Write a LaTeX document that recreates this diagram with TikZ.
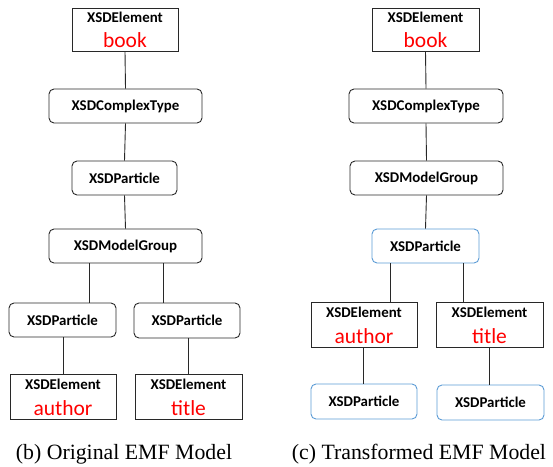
\documentclass[tikz,border=0pt]{standalone}
\usepackage{fontspec}
\setmainfont{Liberation Serif}
\newfontfamily\boxfont{Carlito}
\definecolor{edgeblue}{RGB}{91,155,213}
\definecolor{linegray}{RGB}{40,40,40}
\begin{document}
\begin{tikzpicture}[x=1pt,y=-1pt,
  redlbl/.style={font=\boxfont\fontsize{21.5}{24}\selectfont, text=red, inner sep=0pt, anchor=base},
  toplbl/.style={font=\boxfont\bfseries\fontsize{14.9}{16}\selectfont, inner sep=0pt, anchor=base},
  ebox/.style={draw=linegray, line width=0.9pt, inner sep=0pt, minimum width=106pt, minimum height=44pt},
  rbox/.style={draw=linegray, line width=0.9pt, rounded corners=5pt, inner sep=0pt, minimum height=34pt,
     font=\boxfont\bfseries\fontsize{14.9}{16}\selectfont},
  bbox/.style={rbox, draw=edgeblue},
  conn/.style={draw=linegray, line width=0.9pt},
  captxt/.style={font=\fontsize{21.8}{24}\selectfont, inner sep=0pt, anchor=base}]
\useasboundingbox (0,0) rectangle (553,466);

% ---------- left: original model ----------
\node[ebox, minimum width=106pt, minimum height=43pt] (L1) at (125,29.5) {};
\node[toplbl] (L1t) at (125,22.3) {XSDElement};
\node[redlbl] (L1r) at (125,47.5) {book};
\node[rbox, minimum width=153pt] (L2) at (125.5,106) {XSDComplexType};
\node[rbox, minimum width=105pt] (L3) at (124.5,178) {XSDParticle};
\node[rbox, minimum width=153pt] (L4) at (125.5,246) {XSDModelGroup};
\node[rbox, minimum width=107pt] (L5a) at (62.5,320) {XSDParticle};
\node[rbox, minimum width=106pt, minimum height=35pt] (L5b) at (187,320.5) {XSDParticle};
\node[ebox, minimum width=106pt, minimum height=45pt] (L6a) at (63,396.5) {};
\node[toplbl] (L6at) at (63,389) {XSDElement};
\node[redlbl] (L6ar) at (63,415) {author};
\node[ebox, minimum width=107pt, minimum height=45pt] (L6b) at (188.5,396.5) {};
\node[toplbl] (L6bt) at (188.5,389) {XSDElement};
\node[redlbl] (L6br) at (188.5,415) {title};

\coordinate (lx1) at (89,0);
\coordinate (lx2) at (163,0);
\coordinate (lx3) at (63,0);
\coordinate (lx4) at (188,0);
\draw[conn] (L1.south) -- (L2.north);
\draw[conn] (L2.south) -- (L3.north);
\draw[conn] (L3.south) -- (L4.north);
\draw[conn] (L4.south -| lx1) -- (L5a.north -| lx1);
\draw[conn] (L4.south -| lx2) -- (L5b.north -| lx2);
\draw[conn] (L5a.south -| lx3) -- (L6a.north -| lx3);
\draw[conn] (L5b.south -| lx4) -- (L6b.north -| lx4);

% ---------- right: transformed model ----------
\node[ebox, minimum width=107pt, minimum height=43pt] (R1) at (425.5,29.5) {};
\node[toplbl] (R1t) at (425.5,22.3) {XSDElement};
\node[redlbl] (R1r) at (425.5,47.5) {book};
\node[rbox, minimum width=154pt] (R2) at (426,106) {XSDComplexType};
\node[rbox, minimum width=153pt] (R3) at (426.5,178) {XSDModelGroup};
\node[bbox, minimum width=107pt] (R4) at (425.5,246) {XSDParticle};
\node[ebox, minimum width=106pt, minimum height=45pt] (R5a) at (364,324.5) {};
\node[toplbl] (R5at) at (364,317) {XSDElement};
\node[redlbl] (R5ar) at (364,343) {author};
\node[ebox, minimum width=107pt, minimum height=45pt] (R5b) at (489.5,324.5) {};
\node[toplbl] (R5bt) at (489.5,317) {XSDElement};
\node[redlbl] (R5br) at (489.5,343) {title};
\node[bbox, minimum width=106pt, minimum height=35pt] (R6a) at (364,401.5) {XSDParticle};
\node[bbox, minimum width=107pt, minimum height=35pt] (R6b) at (490.5,402.5) {XSDParticle};

\coordinate (rx1) at (390,0);
\coordinate (rx2) at (463,0);
\coordinate (rx3) at (363,0);
\coordinate (rx4) at (489,0);
\draw[conn] (R1.south) -- (R2.north);
\draw[conn] (R2.south) -- (R3.north);
\draw[conn] (R3.south) -- (R4.north);
\draw[conn] (R4.south -| rx1) -- (R5a.north -| rx1);
\draw[conn] (R4.south -| rx2) -- (R5b.north -| rx2);
\draw[conn] (R5a.south -| rx3) -- (R6a.north -| rx3);
\draw[conn] (R5b.south -| rx4) -- (R6b.north -| rx4);

% ---------- captions ----------
\node[captxt] (capb) at (124,459) {(b) Original EMF Model};
\node[captxt] (capc) at (419,459) {(c) Transformed EMF Model};
\end{tikzpicture}
\end{document}
